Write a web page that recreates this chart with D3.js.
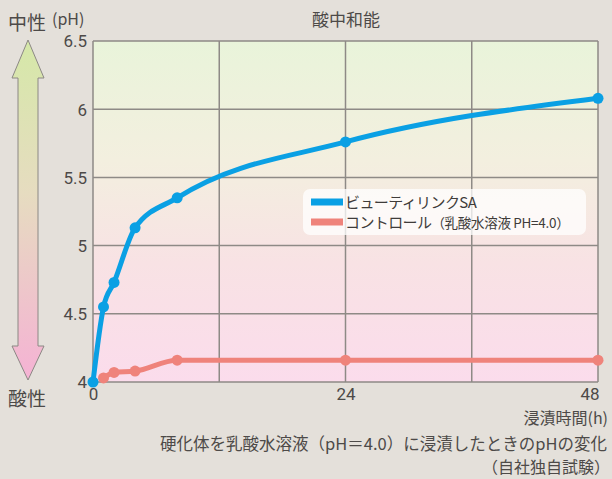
<!DOCTYPE html>
<html>
<head>
<meta charset="utf-8">
<script src="https://cdn.jsdelivr.net/npm/d3@7"></script>
<style>
  body { margin: 0; background: #e4e0da; }
  svg { display: block; font-family: "Noto Sans CJK JP", "Noto Sans", sans-serif; }
</style>
</head>
<body>
<div id="chart"></div>
<script>
// data (hours, pH)
var hours = [0, 1, 2, 4, 8, 24, 48];
var beauty = [4.0, 4.55, 4.73, 5.13, 5.35, 5.76, 6.08];
var controlHours = [1, 2, 4, 8, 24, 48];
var control = [4.03, 4.07, 4.08, 4.16, 4.16, 4.16];
var xTicks = [0, 24, 48];
var xGrid = [0, 12, 24, 36, 48];
var yTicks = [4, 4.5, 5, 5.5, 6, 6.5];
var seriesNames = ["ビューティリンクSA", "コントロール"];
var seriesNote = "（乳酸水溶液 PH=4.0）";

const W = 612, H = 479;
const margin = { top: 41, right: 14, bottom: 97, left: 93 };
const width = W - margin.left - margin.right;
const height = H - margin.top - margin.bottom;

var svg = d3.select("#chart").append("svg")
  .attr("width", W).attr("height", H);

var defs = svg.append("defs");
var bg = defs.append("linearGradient").attr("id", "bg")
  .attr("x1", 0).attr("y1", 0).attr("x2", 0).attr("y2", 1);
bg.append("stop").attr("offset", "0%").attr("stop-color", "#e9f4da");
bg.append("stop").attr("offset", "35%").attr("stop-color", "#f3efdf");
bg.append("stop").attr("offset", "65%").attr("stop-color", "#f8e2e4");
bg.append("stop").attr("offset", "100%").attr("stop-color", "#fbdcec");

var ag = defs.append("linearGradient").attr("id", "arrowGrad")
  .attr("gradientUnits", "userSpaceOnUse")
  .attr("x1", 0).attr("y1", 40).attr("x2", 0).attr("y2", 380);
ag.append("stop").attr("offset", "0%").attr("stop-color", "#d5e8a8");
ag.append("stop").attr("offset", "45%").attr("stop-color", "#e6dcc0");
ag.append("stop").attr("offset", "100%").attr("stop-color", "#f5b2d4");

// left double arrow
var ax = 28, aTop = 40, aBot = 380;
var arrowPts = [
  [ax, aTop], [ax + 16, aTop + 38], [ax + 10, aTop + 38], [ax + 10, aBot - 34],
  [ax + 16, aBot - 34], [ax, aBot], [ax - 16, aBot - 34], [ax - 10, aBot - 34],
  [ax - 10, aTop + 38], [ax - 16, aTop + 38]
];
svg.append("path")
  .attr("d", d3.line()(arrowPts) + "Z")
  .attr("fill", "url(#arrowGrad)")
  .attr("stroke", "#8c8884")
  .attr("stroke-width", 1);

svg.append("text").attr("x", 8).attr("y", 30)
  .attr("font-size", 19).attr("fill", "#4d4a48").text("中性");
svg.append("text").attr("x", 52).attr("y", 25)
  .attr("font-size", 16).attr("fill", "#4d4a48").text("(pH)");
svg.append("text").attr("x", 8).attr("y", 406)
  .attr("font-size", 19).attr("fill", "#4d4a48").text("酸性");

svg.append("text").attr("x", 346).attr("y", 26)
  .attr("text-anchor", "middle").attr("font-size", 17).attr("fill", "#4d4a48")
  .text("酸中和能");

var g = svg.append("g")
  .attr("transform", "translate(" + margin.left + "," + margin.top + ")");

var x = d3.scaleLinear().domain([0, 48]).range([0, width]);
var y = d3.scaleLinear().domain([4, 6.5]).range([height, 0]);

g.append("rect").attr("width", width).attr("height", height)
  .attr("fill", "url(#bg)");

// grid
g.selectAll(".hgrid").data(yTicks).enter().append("line")
  .attr("x1", 0).attr("x2", width)
  .attr("y1", d => y(d)).attr("y2", d => y(d))
  .attr("stroke", "#8e8a86").attr("stroke-width", 1.5);
g.selectAll(".vgrid").data(xGrid).enter().append("line")
  .attr("y1", 0).attr("y2", height)
  .attr("x1", d => x(d)).attr("x2", d => x(d))
  .attr("stroke", "#8e8a86").attr("stroke-width", 1.5);

// axes labels
var yAxis = d3.axisLeft(y).tickValues(yTicks).tickSize(0).tickPadding(6)
  .tickFormat(d3.format("~g"));
g.append("g").call(yAxis)
  .call(s => s.select(".domain").remove())
  .selectAll("text").attr("font-size", 17).attr("fill", "#4d4a48")
  .attr("font-family", "Roboto, sans-serif").attr("dy", "0.35em");

var xAxis = d3.axisBottom(x).tickValues(xTicks).tickSize(0).tickPadding(6);
g.append("g").attr("transform", "translate(0," + height + ")").call(xAxis)
  .call(s => s.select(".domain").remove())
  .selectAll("text").attr("font-size", 17).attr("fill", "#4d4a48")
  .attr("font-family", "Roboto, sans-serif")
  .attr("text-anchor", d => d === 48 ? "end" : "middle")
  .attr("dx", d => d === 48 ? 1 : 0);

svg.append("text").attr("x", 608).attr("y", 424)
  .attr("text-anchor", "end").attr("font-size", 16).attr("fill", "#4d4a48")
  .text("浸漬時間(h)");

// series
var line = d3.line().x(d => x(d[0])).y(d => y(d[1])).curve(d3.curveMonotoneX);
var blueData = hours.map((h, i) => [h, beauty[i]]);
var pinkData = controlHours.map((h, i) => [h, control[i]]);

g.append("path").datum(pinkData).attr("d", line)
  .attr("fill", "none").attr("stroke", "#ef837b").attr("stroke-width", 5);
g.selectAll(".pp").data(pinkData).enter().append("circle")
  .attr("cx", d => x(d[0])).attr("cy", d => y(d[1])).attr("r", 5.5)
  .attr("fill", "#ef837b");

g.append("path").datum(blueData).attr("d", line)
  .attr("fill", "none").attr("stroke", "#0aa0e4").attr("stroke-width", 5);
g.selectAll(".bp").data(blueData).enter().append("circle")
  .attr("cx", d => x(d[0])).attr("cy", d => y(d[1])).attr("r", 5.5)
  .attr("fill", "#0aa0e4");

// legend
var lg = svg.append("g").attr("transform", "translate(303,189)");
lg.append("rect").attr("width", 283).attr("height", 46).attr("rx", 7)
  .attr("fill", "#ffffff").attr("fill-opacity", 0.75);
var colors = ["#0aa0e4", "#ef837b"];
seriesNames.forEach(function(name, i) {
  var row = lg.append("g").attr("transform", "translate(8," + (13 + i * 20) + ")");
  row.append("rect").attr("x", 0).attr("y", -3.5).attr("width", 32).attr("height", 7)
    .attr("fill", colors[i]);
  var t = row.append("text").attr("x", 34).attr("y", 5.5)
    .attr("font-size", 15).attr("fill", "#3f3c3a").attr("letter-spacing", -0.6)
    .text(name);
  if (i === 1) {
    t.append("tspan").attr("font-size", 13.5).attr("letter-spacing", -0.3).text(seriesNote);
  }
});

// caption
svg.append("text").attr("x", 607).attr("y", 450)
  .attr("text-anchor", "end").attr("font-size", 16.5).attr("fill", "#4d4a48")
  .text("硬化体を乳酸水溶液（pH＝4.0）に浸漬したときのpHの変化");
svg.append("text").attr("x", 610).attr("y", 473)
  .attr("text-anchor", "end").attr("font-size", 16).attr("fill", "#4d4a48")
  .text("（自社独自試験）");
</script>
</body>
</html>
